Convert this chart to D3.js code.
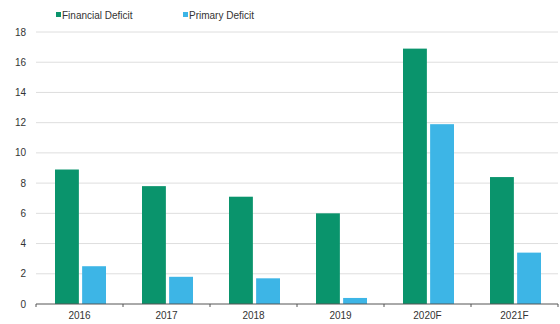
<!DOCTYPE html>
<html>
<head>
<meta charset="utf-8">
<script src="https://cdn.jsdelivr.net/npm/d3@7"></script>
<style>
  body { margin: 0; background: #fff; }
  svg { font-family: "Liberation Sans", Arial, sans-serif; }
</style>
</head>
<body>
<div id="chart"></div>
<script>
// --- data ---
const years = ["2016", "2017", "2018", "2019", "2020F", "2021F"];
const financialDeficit = [8.9, 7.8, 7.1, 6.0, 16.9, 8.4];
const primaryDeficit = [2.5, 1.8, 1.7, 0.4, 11.9, 3.4];
const yTicks = [0, 2, 4, 6, 8, 10, 12, 14, 16, 18];
const seriesNames = ["Financial Deficit", "Primary Deficit"];
const seriesColors = ["#0a946c", "#3db5e6"];

const W = 560, H = 324;
const margin = {top: 32, right: 2, bottom: 20, left: 36};
const width = W - margin.left - margin.right;
const height = H - margin.top - margin.bottom;

const svg = d3.select("#chart").append("svg")
    .attr("width", W).attr("height", H);
const g = svg.append("g").attr("transform", `translate(${margin.left},${margin.top})`);

const x = d3.scaleBand().domain(years).range([0, width]).paddingInner(0).paddingOuter(0);
const xs = d3.scaleBand().domain([0, 1]).range([19, 70]).paddingInner(0.12);
const y = d3.scaleLinear().domain([0, 18]).range([height, 0]);

// gridlines
g.append("g").selectAll("line").data(yTicks.filter(d => d > 0)).join("line")
    .attr("x1", 0).attr("x2", width)
    .attr("y1", d => y(d)).attr("y2", d => y(d))
    .attr("stroke", "#dedede").attr("stroke-width", 1);

// y labels
g.append("g").selectAll("text").data(yTicks).join("text")
    .attr("x", -10).attr("y", d => y(d)).attr("dy", "0.35em")
    .attr("text-anchor", "end").attr("font-size", 10).attr("fill", "#333")
    .text(d => d);

// bars
const data = years.map((yr, i) => ({yr, vals: [financialDeficit[i], primaryDeficit[i]]}));
const groups = g.append("g").selectAll("g").data(data).join("g")
    .attr("transform", d => `translate(${x(d.yr)},0)`);
groups.selectAll("rect").data(d => d.vals).join("rect")
    .attr("x", (d, i) => xs(i)).attr("width", xs.bandwidth())
    .attr("y", d => y(d)).attr("height", d => height - y(d))
    .attr("fill", (d, i) => seriesColors[i]);

// x axis
const xAxis = g.append("g").attr("transform", `translate(0,${height})`);
xAxis.append("line").attr("x1", 0).attr("x2", width).attr("stroke", "#555");
xAxis.selectAll(".tk").data(d3.range(years.length + 1)).join("line")
    .attr("class", "tk")
    .attr("x1", i => i * x.bandwidth()).attr("x2", i => i * x.bandwidth())
    .attr("y1", 0).attr("y2", 3).attr("stroke", "#555");
xAxis.selectAll("text").data(years).join("text")
    .attr("x", d => x(d) + x.bandwidth() / 2).attr("y", 15)
    .attr("text-anchor", "middle").attr("font-size", 10).attr("fill", "#333")
    .text(d => d);

// legend
const legend = svg.append("g").attr("transform", "translate(56,15)");
const legX = [0, 127];
seriesNames.forEach((name, i) => {
    const lg = legend.append("g").attr("transform", `translate(${legX[i]},0)`);
    lg.append("rect").attr("x", 0).attr("y", -3).attr("width", 5).attr("height", 5).attr("fill", seriesColors[i]);
    lg.append("text").attr("x", 6).attr("y", 0).attr("dy", "0.35em")
        .attr("font-size", 10).attr("fill", "#333").text(name);
});
</script>
</body>
</html>
